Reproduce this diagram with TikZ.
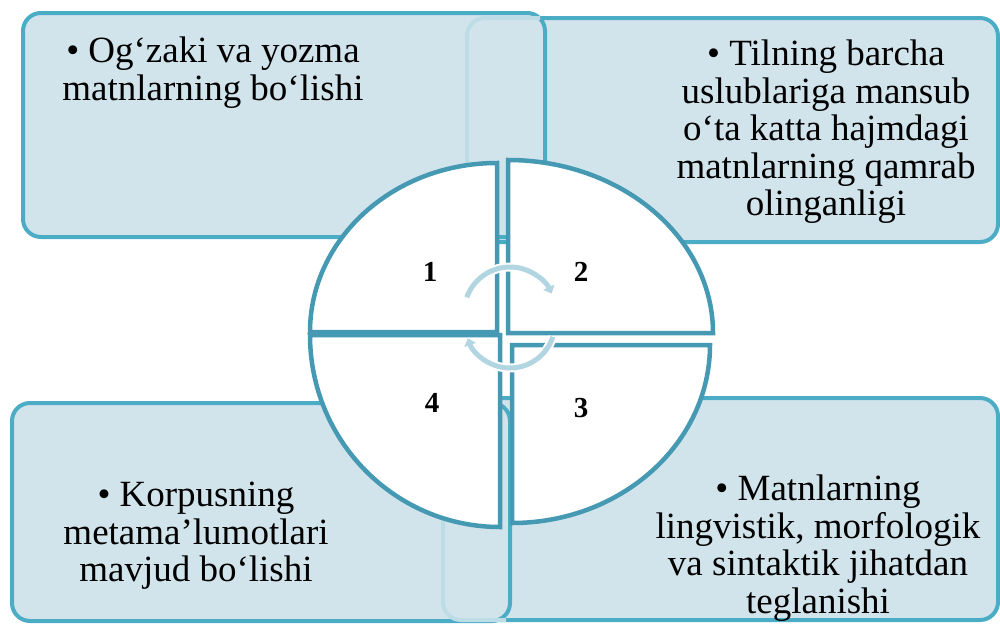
\documentclass[tikz,border=0pt]{standalone}
\usepackage{fontspec}
\setmainfont{Liberation Serif}
\usetikzlibrary{arrows.meta}

\definecolor{panelfill}{HTML}{D2E4EB}
\definecolor{panelline}{HTML}{4BACC6}
\definecolor{quadline}{HTML}{4599B3}
\definecolor{faintline}{HTML}{BCDCE6}
\definecolor{cyclearrow}{HTML}{B1D5E1}

\tikzset{
  panel/.style={draw=panelline, fill=panelfill, line width=4pt, rounded corners=18pt, inner sep=0pt},
  faint/.style={draw=faintline, line width=4pt, rounded corners=18pt},
  quad/.style={draw=quadline, fill=white, line width=4.5pt},
  itemtext/.style={font=\fontsize{37}{37.5}\selectfont, align=center, anchor=north, inner sep=0pt},
  num/.style={font=\fontsize{29}{29}\selectfont\bfseries},
  cyc/.style={draw=cyclearrow, line width=5pt, -{Triangle[length=7pt,width=12pt]},
    preaction={draw=white, line width=9pt}},
}

\begin{document}
\begin{tikzpicture}[x=1pt, y=-1pt]
        \useasboundingbox (0,0) rectangle (1000,624);
        \clip (0,0) rectangle (1000,624);

        % Panels
        \node (box2) [panel, minimum width=531pt, minimum height=224pt] at (732.5,130) {};
        \node (box3) [panel, minimum width=555pt, minimum height=222pt] at (720.5,509) {};
        \node (box1) [panel, minimum width=522pt, minimum height=224pt] at (284,125) {};
        \node (box4) [panel, minimum width=498pt, minimum height=218pt] at (261,512) {};
        \draw[faint] (467,237) |- (540,18);
        \draw[faint] (443,410) |- (506,620);

        % Texts
        \node (t1) [itemtext] at (213,37) {• Og‘zaki va yozma\\matnlarning bo‘lishi};
        \node (t2) [itemtext] at (826,40) {• Tilning barcha\\uslublariga mansub\\o‘ta katta hajmdagi\\matnlarning qamrab\\olinganligi};
        \node (t3) [itemtext] at (818,475) {• Matnlarning\\lingvistik, morfologik\\va sintaktik jihatdan\\teglanishi};
        \node (t4) [itemtext] at (196,482) {• Korpusning\\metama’lumotlari\\mavjud bo‘lishi};

        % Quadrants
        \draw[quad] (497,332) -- (310,332) arc[start angle=180, end angle=270, x radius=187, y radius=169] -- cycle;
        \draw[quad] (508,333) -- (508,160) arc[start angle=270, end angle=360, x radius=205, y radius=173] -- cycle;
        \draw[quad] (512,345) -- (710,345) arc[start angle=0, end angle=90, x radius=198, y radius=178] -- cycle;
        \draw[quad] (500,335) -- (500,527) arc[start angle=90, end angle=180, x radius=190, y radius=192] -- cycle;

        \node (n1) [num] at (430,272) {1};
        \node (n2) [num] at (581,272) {2};
        \node (n3) [num] at (581,408) {3};
        \node (n4) [num] at (432,403) {4};

        % Arrows
        \coordinate (hubup) at (510,313);
        \coordinate (hubdown) at (510,323);
        \draw[cyc] ([shift={(200:46)}]hubup) arc[start angle=200, end angle=335, radius=46];
        \draw[cyc] ([shift={(18:45)}]hubdown) arc[start angle=18, end angle=160, radius=45];
    \end{tikzpicture}
\end{document}
